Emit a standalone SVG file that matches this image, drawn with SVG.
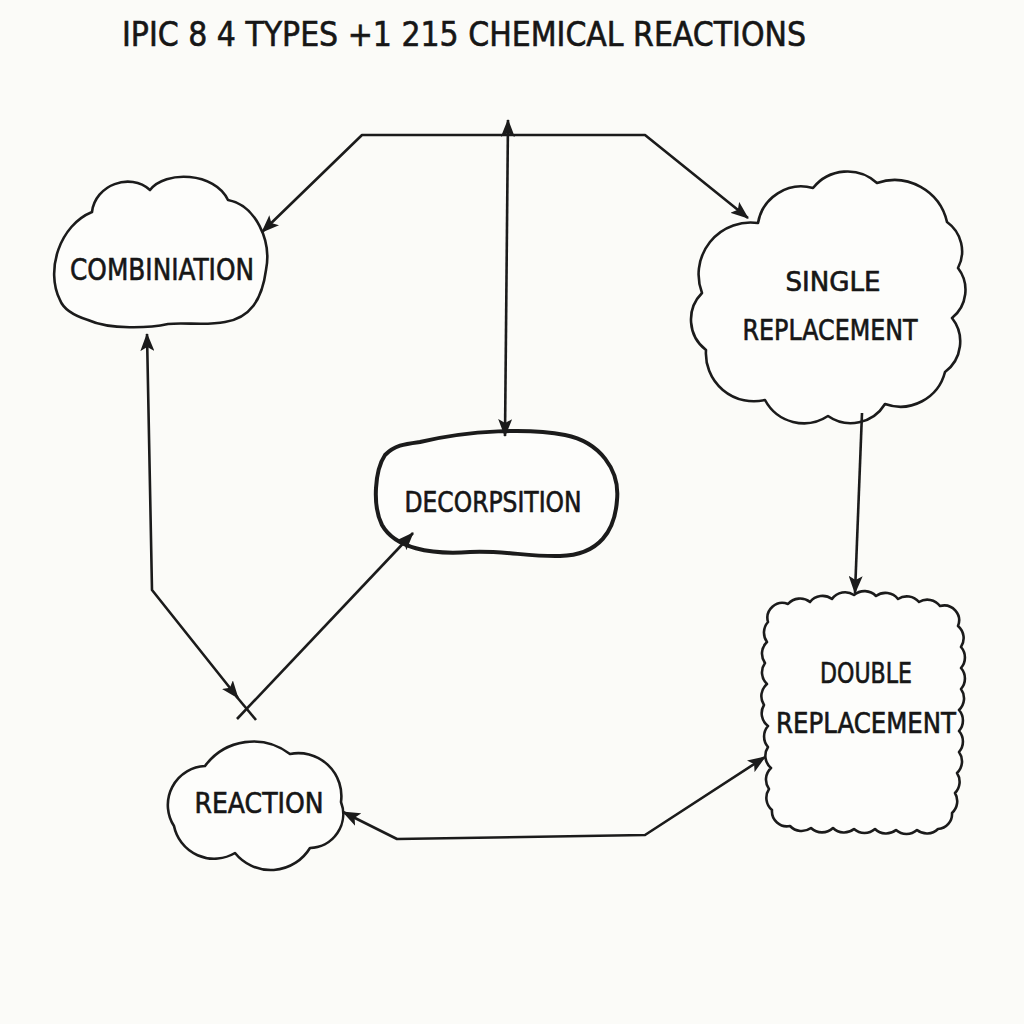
<svg xmlns="http://www.w3.org/2000/svg" width="1024" height="1024" viewBox="0 0 1024 1024">
<style>
.bg{fill:#fbfbf8}
.node{fill:#fdfdfb;stroke:#1b1b1b;stroke-width:2.6;stroke-linejoin:round}
.thick{stroke-width:4}
.lbl{font-family:"DejaVu Sans Condensed","DejaVu Sans",sans-serif;fill:#161616;stroke:#161616;stroke-width:0.6;text-anchor:middle;font-weight:normal}
.conn{fill:none;stroke:#1b1b1b;stroke-width:2.6;stroke-linejoin:round}
</style>
<defs>
<marker id="ah" viewBox="0 0 18 14" refX="17" refY="7" markerWidth="18" markerHeight="14" markerUnits="userSpaceOnUse" orient="auto-start-reverse">
<path d="M0,0 L18,7 L0,14 L4,7 z" fill="#1b1b1b"/>
</marker>
</defs>
<rect class="bg" x="0" y="0" width="1024" height="1024"/>
<text class="lbl" x="122" y="46" style="text-anchor:start" font-size="34" textLength="684" lengthAdjust="spacingAndGlyphs">IPIC 8 4 TYPES +1 215 CHEMICAL REACTIONS</text>

<g id="combination">
<path class="node" d="M 60 300 C 45 270, 60 225, 92 212 C 95 185, 130 172, 150 190 C 165 170, 215 172, 228 200 C 255 205, 272 240, 266 270 C 262 300, 250 318, 225 322 C 205 326, 185 322, 168 324 C 150 328, 110 330, 88 320 C 72 315, 63 308, 60 300 Z"/>
<text class="lbl" x="162" y="280" font-size="30" textLength="184" lengthAdjust="spacingAndGlyphs">COMBINIATION</text>
</g>

<g id="single-replacement">
<path class="node" d="M 758 223 A 44 44 0 0 1 813 188 A 44 44 0 0 1 877 183 A 54 54 0 0 1 947 222 A 36 36 0 0 1 958 268 A 36 36 0 0 1 952 318 A 38 38 0 0 1 945 372 A 46 46 0 0 1 885 404 A 40 40 0 0 1 828 416 A 44 44 0 0 1 765 400 A 48 48 0 0 1 706 350 A 38 38 0 0 1 702 293 A 52 52 0 0 1 758 223 Z"/>
<text class="lbl" x="833" y="291" font-size="26" textLength="95" lengthAdjust="spacingAndGlyphs">SINGLE</text>
<text class="lbl" x="830" y="340" font-size="28" textLength="175" lengthAdjust="spacingAndGlyphs">REPLACEMENT</text>
</g>

<g id="decorpsition">
<path class="node thick" d="M 420 442 C 470 430, 530 428, 565 435 C 600 442, 620 470, 617 500 C 615 530, 600 555, 560 556 C 530 557, 500 550, 470 552 C 430 555, 395 548, 382 525 C 372 505, 375 470, 385 455 C 395 445, 405 444, 420 442 Z"/>
<text class="lbl" x="493" y="512" font-size="28" textLength="177" lengthAdjust="spacingAndGlyphs">DECORPSITION</text>
</g>

<g id="double-replacement">
<path class="node" d="M 768 622 a 15 15 0 0 1 20 -18 a 16 16 0 0 1 22 -2 a 16 16 0 0 1 22 -3 a 16 16 0 0 1 22 -4 a 16 16 0 0 1 22 1 a 16 16 0 0 1 22 3 a 16 16 0 0 1 21 3 a 16 16 0 0 1 21 4 a 15 15 0 0 1 18 20 a 16 16 0 0 1 3 21 a 16 16 0 0 1 0 21 a 16 16 0 0 1 0 21 a 16 16 0 0 1 -2 21 a 16 16 0 0 1 0 21 a 16 16 0 0 1 0 21 a 16 16 0 0 1 -2 21 a 16 16 0 0 1 -2 20 a 16 16 0 0 1 -3 20 a 15 15 0 0 1 -14 16 a 16 16 0 0 1 -21 1 a 16 16 0 0 1 -21 0 a 16 16 0 0 1 -21 -1 a 16 16 0 0 1 -21 0 a 16 16 0 0 1 -21 -1 a 16 16 0 0 1 -22 0 a 16 16 0 0 1 -21 -2 a 15 15 0 0 1 -18 -16 a 16 16 0 0 1 -3 -21 a 16 16 0 0 1 2 -21 a 16 16 0 0 1 -3 -21 a 16 16 0 0 1 0 -21 a 16 16 0 0 1 -4 -21 a 16 16 0 0 1 3 -21 a 16 16 0 0 1 -2 -21 a 16 16 0 0 1 2 -21 a 16 16 0 0 1 1 -20 z"/>
<text class="lbl" x="866" y="683" font-size="28" textLength="92" lengthAdjust="spacingAndGlyphs">DOUBLE</text>
<text class="lbl" x="866" y="733" font-size="28" textLength="180" lengthAdjust="spacingAndGlyphs">REPLACEMENT</text>
</g>

<g id="reaction">
<path class="node" d="M 174 826 A 39 39 0 0 1 205 766 A 60 60 0 0 1 290 754 A 43 43 0 0 1 341 802 A 34 34 0 0 1 310 848 A 46 46 0 0 1 235 853 A 41 41 0 0 1 174 826 Z"/>
<text class="lbl" x="259" y="813" font-size="28" textLength="129" lengthAdjust="spacingAndGlyphs">REACTION</text>
</g>

<g id="connectors">
<path class="conn" d="M 262 232 L 362 135 L 645 135 L 748 218" marker-start="url(#ah)" marker-end="url(#ah)"/>
<path class="conn" d="M 508 120 L 505 436" marker-start="url(#ah)" marker-end="url(#ah)"/>
<path class="conn" d="M 147 334 L 152 590 L 238 698" marker-start="url(#ah)" marker-end="url(#ah)"/>
<path class="conn" d="M 236 696 L 256 720"/>
<path class="conn" d="M 237 719 L 413 533" marker-end="url(#ah)"/>
<path class="conn" d="M 862 413 L 855 593" marker-end="url(#ah)"/>
<path class="conn" d="M 765 757 L 645 835 L 397 839 L 343 812" marker-start="url(#ah)" marker-end="url(#ah)"/>
</g>
</svg>
